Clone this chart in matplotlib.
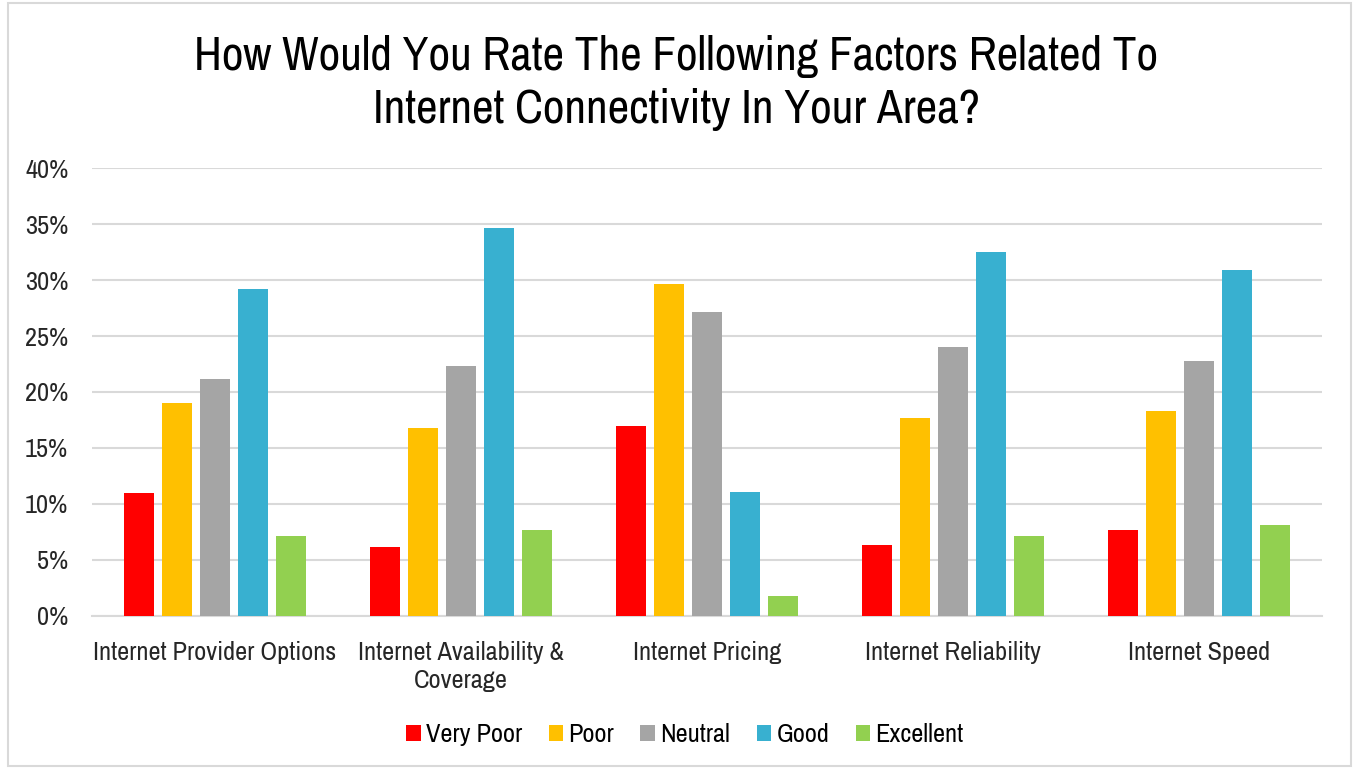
import matplotlib
matplotlib.use('Agg')
import matplotlib.pyplot as plt
import numpy as np
from matplotlib.patches import Rectangle

plt.rcParams['font.family'] = ['Archivo Narrow', 'DejaVu Sans']

categories = ['Internet Provider Options', 'Internet Availability &\nCoverage',
              'Internet Pricing', 'Internet Reliability', 'Internet Speed']
ratings = ['Very Poor', 'Poor', 'Neutral', 'Good', 'Excellent']
colors = ['#FF0000', '#FFC000', '#A5A5A5', '#38B0D0', '#92D050']

very_poor = [11.0, 6.2, 17.0, 6.3, 7.7]
poor = [19.0, 16.8, 29.6, 17.7, 18.3]
neutral = [21.2, 22.3, 27.1, 24.0, 22.8]
good = [29.2, 34.6, 11.1, 32.5, 30.9]
excellent = [7.1, 7.7, 1.8, 7.1, 8.1]
series = [very_poor, poor, neutral, good, excellent]

fig = plt.figure(figsize=(13.53, 7.69), dpi=100)
ax = fig.add_axes([0.068, 0.199, 0.909, 0.5825])

x = np.arange(len(categories))
width = 0.122
step = 0.154
for i, (vals, lab, c) in enumerate(zip(series, ratings, colors)):
    ax.bar(x + (i - 2) * step, vals, width, color=c, label=lab, zorder=3)

ax.set_xlim(-0.5, 4.5)
ax.set_ylim(0, 40)
ax.set_yticks(np.arange(0, 41, 5))
ax.set_yticklabels([f'{v}%' for v in range(0, 41, 5)], fontsize=19, color='#262626')
ax.set_xticks(x)
ax.set_xticklabels(categories, fontsize=19, color='#262626', linespacing=1.25)
ax.tick_params(axis='both', length=0)
ax.tick_params(axis='x', pad=18)
ax.tick_params(axis='y', pad=17)
ax.grid(axis='y', color='#D9D9D9', linewidth=1.5, zorder=0)
for s in ['top', 'right', 'left']:
    ax.spines[s].set_visible(False)
ax.spines['bottom'].set_color('#D9D9D9')
ax.spines['bottom'].set_linewidth(1.5)

fig.suptitle('How Would You Rate The Following Factors Related To\nInternet Connectivity In Your Area?',
             fontsize=34, y=0.955, color='#000000', linespacing=1.3)

ax.legend(loc='center', bbox_to_anchor=(0.482, -0.265), ncol=5, frameon=False,
          fontsize=19, handlelength=0.55, handleheight=0.55, handletextpad=0.2,
          columnspacing=1.0, labelcolor='#000000')

# outer frame
fig.patches.append(Rectangle((0.006, 0.004), 0.9925, 0.992, transform=fig.transFigure,
                             fill=False, edgecolor='#D9D9D9', linewidth=1.5))

fig.savefig('out.png', dpi=100)
